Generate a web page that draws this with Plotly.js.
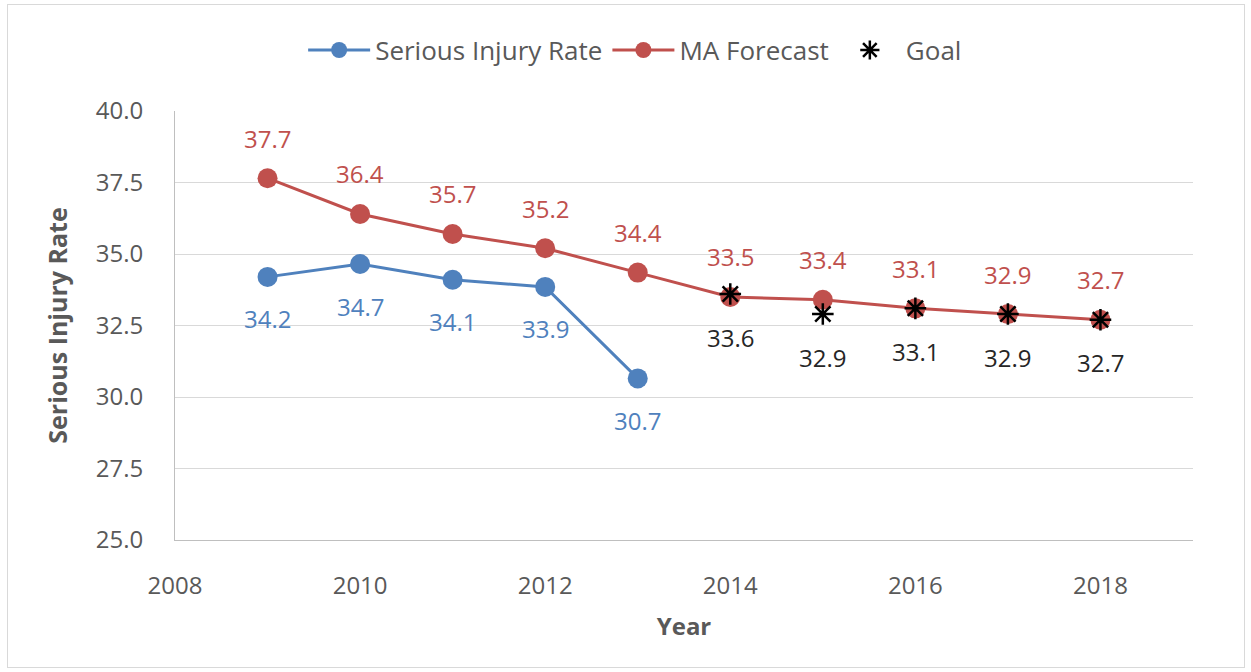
<!DOCTYPE html>
<html>
<head>
<meta charset="utf-8">
<script src="https://cdn.plot.ly/plotly-3.0.1.min.js"></script>
<style>
html,body{margin:0;padding:0;background:#fff;}
#wrap{position:relative;width:1251px;height:672px;}
#chart{width:1251px;height:672px;}
#frame{position:absolute;left:7px;top:4px;width:1236px;height:662px;border:1px solid #d9d9d9;pointer-events:none;}
</style>
</head>
<body>
<div id="wrap"><div id="chart"></div><div id="frame"></div></div>
<script>
const injuryYears = [2009, 2010, 2011, 2012, 2013];
const injuryRate = [34.2, 34.65, 34.1, 33.85, 30.65];
const injuryLabels = ["34.2", "34.7", "34.1", "33.9", "30.7"];

const forecastYears = [2009, 2010, 2011, 2012, 2013, 2014, 2015, 2016, 2017, 2018];
const forecastRate = [37.65, 36.4, 35.7, 35.2, 34.35, 33.5, 33.4, 33.1, 32.9, 32.7];
const forecastLabels = ["37.7", "36.4", "35.7", "35.2", "34.4", "33.5", "33.4", "33.1", "32.9", "32.7"];

const goalYears = [2014, 2015, 2016, 2017, 2018];
const goalRate = [33.6, 32.9, 33.1, 32.9, 32.7];
const goalLabels = ["33.6", "32.9", "33.1", "32.9", "32.7"];

const FONT = '"Open Sans", "Noto Sans", sans-serif';
const BLUE = '#4f81bd', RED = '#c0504d';

const traces = [
  {
    x: injuryYears, y: injuryRate, name: 'Serious Injury Rate',
    mode: 'lines+markers',
    line: {color: BLUE, width: 3},
    marker: {color: BLUE, size: 20}
  },
  {
    x: forecastYears, y: forecastRate, name: 'MA Forecast',
    mode: 'lines+markers',
    line: {color: RED, width: 3},
    marker: {color: RED, size: 20}
  },
  {
    x: goalYears, y: goalRate, name: 'Goal',
    mode: 'markers',
    marker: {symbol: 'asterisk-open', size: 18, color: '#000', line: {color: '#000', width: 2.5}}
  }
];

function labels(xs, ys, txt, color, shift) {
  return xs.map((x, i) => ({
    x: x, y: ys[i], xref: 'x', yref: 'y', text: txt[i], showarrow: false,
    yshift: shift, font: {family: FONT, size: 24, color: color}
  }));
}

const annotations = [].concat(
  labels(injuryYears, injuryRate, injuryLabels, BLUE, -42),
  labels(forecastYears, forecastRate, forecastLabels, RED, 40),
  labels(goalYears, goalRate, goalLabels, '#262626', -43)
);

const layout = {
  width: 1251, height: 672,
  margin: {l: 175, r: 58, t: 111, b: 132, autoexpand: false},
  paper_bgcolor: '#fff', plot_bgcolor: '#fff',
  font: {family: FONT, color: '#595959', size: 22},
  showlegend: true,
  legend: {
    orientation: 'h', x: 0.452, xanchor: 'center', y: 1.142, yanchor: 'middle',
    font: {family: FONT, size: 26, color: '#595959'},
    itemwidth: 62, tracegroupgap: 0
  },
  annotations: annotations,
  xaxis: {
    range: [2008, 2019], tick0: 2008, dtick: 2,
    showgrid: false, zeroline: false,
    showline: true, linecolor: '#bfbfbf', linewidth: 1,
    ticks: '', ticklen: 0, ticklabelstandoff: 24,
    tickfont: {family: FONT, size: 24, color: '#595959'},
    title: {text: '<b>Year</b>', font: {family: FONT, size: 24, color: '#595959'}, standoff: 18}
  },
  yaxis: {
    range: [25, 40], tick0: 25, dtick: 2.5, tickformat: '.1f',
    showgrid: true, gridcolor: '#d9d9d9', gridwidth: 1, zeroline: false,
    showline: true, linecolor: '#bfbfbf', linewidth: 1,
    ticks: '', ticklen: 0, ticklabelstandoff: 26,
    tickfont: {family: FONT, size: 24, color: '#595959'},
    title: {text: '<b>Serious Injury Rate</b>', font: {family: FONT, size: 25, color: '#595959'}, standoff: 20}
  }
};

Plotly.newPlot('chart', traces, layout, {displayModeBar: false, staticPlot: true});
</script>
</body>
</html>
